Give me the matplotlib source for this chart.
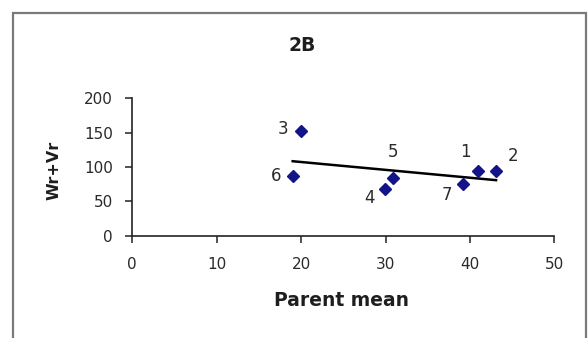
import numpy as np
import matplotlib
matplotlib.use("Agg")
import matplotlib.pyplot as plt
from matplotlib.patches import Rectangle

# Parent lines: mean of parents vs Wr+Vr
labels = ["1", "2", "3", "4", "5", "6", "7"]
parent_mean = [41.0, 43.1, 20.0, 29.9, 30.9, 19.0, 39.2]
wr_vr = [94.6, 94.6, 152.4, 68.0, 84.0, 86.5, 75.7]

# label offsets in pixels (dx, dy) relative to each point
label_offsets = {
    "1": (-13, 19), "2": (17, 15), "3": (-18, 2), "4": (-15, -9),
    "5": (0, 26), "6": (-17, 0), "7": (-16, -11),
}

x_ticks = [0, 10, 20, 30, 40, 50]
y_ticks = [0, 50, 100, 150, 200]

W, H = 588, 338
fig = plt.figure(figsize=(W / 100, H / 100), dpi=100)
fig.patch.set_facecolor("white")

# chart-area border
fig.patches.append(Rectangle((13 / W, -0.05), (586 - 13) / W, 1 - 13 / H + 0.05,
                             transform=fig.transFigure, fill=False,
                             edgecolor="#7a7a7a", linewidth=1.6, zorder=0))

ax = fig.add_axes([132.3 / W, 1 - 235.7 / H, (554.3 - 132.3) / W, (235.7 - 98.3) / H])
ax.set_xlim(0, 50)
ax.set_ylim(0, 200)
ax.set_xticks(x_ticks)
ax.set_yticks(y_ticks)
for s in ("top", "right"):
    ax.spines[s].set_visible(False)
for s in ("left", "bottom"):
    ax.spines[s].set_color("#222222")
    ax.spines[s].set_linewidth(1.2)
ax.tick_params(axis="both", direction="out", length=5, width=1.1, color="#222222",
               labelsize=11, labelcolor="#2a2a2a")
ax.tick_params(axis="x", pad=10)
ax.tick_params(axis="y", pad=9)

# linear trend line fitted to the points
xs = np.array(parent_mean)
ys = np.array(wr_vr)
slope, intercept = np.polyfit(xs, ys, 1)
xl = np.array([xs.min(), xs.max()])
ax.plot(xl, slope * xl + intercept, color="black", linewidth=1.8, zorder=2)

ax.plot(xs, ys, linestyle="none", marker="D", markersize=6, color="#14148a", zorder=3,
        clip_on=False)

for lab, x, y in zip(labels, parent_mean, wr_vr):
    dx, dy = label_offsets[lab]
    ax.annotate(lab, (x, y), xytext=(dx, dy), textcoords="offset pixels",
                ha="center", va="center", fontsize=12, color="#2a2a2a")

fig.text(302 / W, 1 - 45.5 / H, "2B", ha="center", va="center",
         fontsize=13.5, fontweight="bold", color="#1e1e1e")
fig.text(341 / W, 1 - 300 / H, "Parent mean", ha="center", va="center",
         fontsize=13.5, fontweight="bold", color="#1e1e1e")
fig.text(54 / W, 1 - 170 / H, "Wr+Vr", ha="center", va="center", rotation=90,
         fontsize=11.5, fontweight="bold", color="#1e1e1e")

fig.savefig("out.png", dpi=100)
